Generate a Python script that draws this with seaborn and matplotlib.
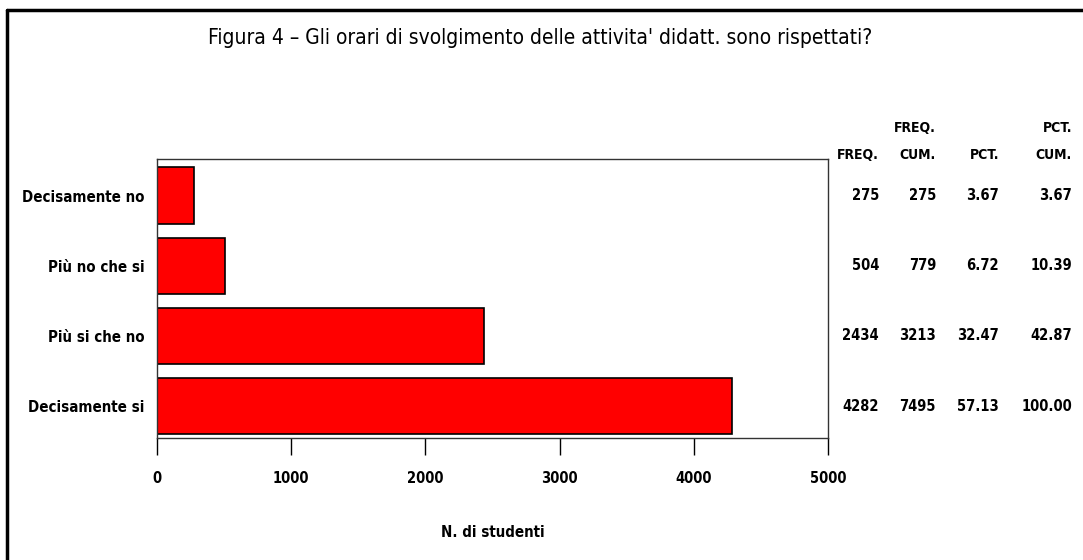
import numpy as np
import pandas as pd
import matplotlib
matplotlib.use("Agg")
import matplotlib.pyplot as plt
import seaborn as sns
from matplotlib.lines import Line2D

# Data
categories = ["Decisamente no", "Più no che si", "Più si che no", "Decisamente si"]
freq = [275, 504, 2434, 4282]
freq_cum = [275, 779, 3213, 7495]
pct = ["3.67", "6.72", "32.47", "57.13"]
pct_cum = ["3.67", "10.39", "42.87", "100.00"]
x_ticks = [0, 1000, 2000, 3000, 4000, 5000]

df = pd.DataFrame({"Risposta": categories, "Freq": freq})

sns.set_theme(style="white")
plt.rcParams["font.family"] = ["DejaVu Sans"]
plt.rcParams["font.stretch"] = "condensed"
plt.rcParams["text.color"] = "black"
plt.rcParams["xtick.color"] = "black"
plt.rcParams["ytick.color"] = "black"
plt.rcParams["axes.labelcolor"] = "black"

fig = plt.figure(figsize=(10.83, 5.6), dpi=100)
ax = fig.add_axes([157 / 1083, 1 - 438 / 560, (828 - 157) / 1083, (438 - 159) / 560])

sns.barplot(data=df, x="Freq", y="Risposta", color="#ff0000", width=0.8,
            edgecolor="black", linewidth=1.2, saturation=1, ax=ax)

ax.set_xlim(0, 5000)
ax.set_ylim(3.45, -0.52)
ax.set_xticks(x_ticks)
ax.set_xticklabels([str(t) for t in x_ticks], fontsize=10.5, fontweight="bold", fontstretch="condensed")
ax.tick_params(axis="x", direction="out", length=12, width=1, pad=12, bottom=True, color="black")
ax.tick_params(axis="y", length=0, pad=9)
for lbl in ax.get_yticklabels():
    lbl.set_fontsize(10.8)
    lbl.set_fontweight("bold")
    lbl.set_fontstretch("condensed")
ax.set_xlabel("N. di studenti", fontsize=10.8, fontweight="bold", fontstretch="condensed", labelpad=28)
ax.set_ylabel("")
for s in ax.spines.values():
    s.set_visible(True)
    s.set_color("#333333")
    s.set_linewidth(1)

# Frequency table on the right
col_x = [879, 936, 999, 1072]
headers_top = ["", "FREQ.", "", "PCT."]
headers_bot = ["FREQ.", "CUM.", "PCT.", "CUM."]
row_y = [195.5, 266, 336, 406.5]
cols = [[str(v) for v in freq], [str(v) for v in freq_cum], pct, pct_cum]
for cx, ht, hb, vals in zip(col_x, headers_top, headers_bot, cols):
    fx = cx / 1083
    if ht:
        fig.text(fx, 1 - 128 / 560, ht, ha="right", va="center", fontsize=10,
                 fontweight="bold", fontstretch="condensed")
    fig.text(fx, 1 - 155 / 560, hb, ha="right", va="center", fontsize=10,
             fontweight="bold", fontstretch="condensed")
    for ry, v in zip(row_y, vals):
        fig.text(fx, 1 - ry / 560, v, ha="right", va="center", fontsize=10.5,
                 fontweight="bold", fontstretch="condensed")

fig.text(540 / 1083, 1 - 38 / 560,
         "Figura 4 \u2013 Gli orari di svolgimento delle attivita' didatt. sono rispettati?",
         ha="center", va="center", fontsize=15, fontstretch="condensed")

# Outer frame (left and top only)
fig.add_artist(Line2D([7 / 1083, 7 / 1083], [0, 1 - 10 / 560], color="black", lw=2.5, transform=fig.transFigure))
fig.add_artist(Line2D([7 / 1083, 1], [1 - 10 / 560, 1 - 10 / 560], color="black", lw=2.5, transform=fig.transFigure))

fig.savefig("out.png", dpi=100, facecolor="white")
